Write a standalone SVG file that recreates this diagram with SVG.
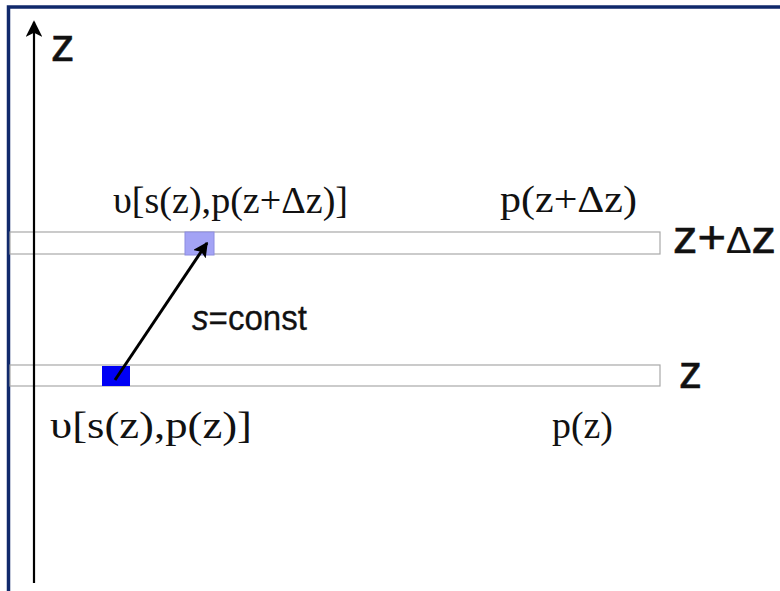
<svg xmlns="http://www.w3.org/2000/svg" width="780" height="591" viewBox="0 0 780 591">
<defs>
<style>
.serif{font-family:"Liberation Serif","Times New Roman",serif;font-size:38px;fill:#111}
.sans{font-family:"Liberation Sans",Arial,sans-serif;fill:#111;stroke:#111;stroke-width:0.6}
.band{fill:#fff;stroke:#a8a8a8;stroke-width:1.2}
</style>
<marker id="ah" viewBox="0 0 10 10" refX="9" refY="5" markerWidth="9" markerHeight="7.5" markerUnits="strokeWidth" orient="auto">
<path d="M0,0 L10,5 L0,10 L2.5,5 z" fill="#000"/>
</marker>
<marker id="ah2" viewBox="0 0 10 10" refX="9" refY="5" markerWidth="5" markerHeight="5" markerUnits="strokeWidth" orient="auto">
<path d="M0,0 L10,5 L0,10 L2,5 z" fill="#000"/>
</marker>
</defs>
<rect width="780" height="591" fill="#fff"/>
<g id="frame">
<path d="M8.5,591 L8.5,7 L780,7" fill="none" stroke="#10296b" stroke-width="3.5"/>
</g>
<g id="band-upper"><rect class="band" x="10" y="232" width="650" height="22"/></g>
<g id="band-lower"><rect class="band" x="10" y="365" width="650" height="21"/></g>
<g id="cell-upper"><rect x="185" y="232" width="29" height="23" fill="#a3a3f5" stroke="#8c8ce0" stroke-width="1"/></g>
<g id="cell-lower"><rect x="102" y="366" width="28" height="20" fill="#0000f5"/></g>
<g id="connectors">
<line x1="34" y1="583" x2="34" y2="22" stroke="#000" stroke-width="2.2" marker-end="url(#ah)"/>
<line x1="115" y1="380" x2="207" y2="243" stroke="#000" stroke-width="3" marker-end="url(#ah2)"/>
</g>
<g id="labels">
<text class="sans" x="51" y="61" font-size="47">z</text>
<text class="serif" x="113" y="213" textLength="235" lengthAdjust="spacingAndGlyphs">υ[s(z),p(z+Δz)]</text>
<text class="serif" x="500" y="212" textLength="137" lengthAdjust="spacingAndGlyphs">p(z+Δz)</text>
<text class="sans" x="673" y="253" font-size="46" textLength="103" lengthAdjust="spacingAndGlyphs">z+<tspan font-size="36" style="stroke-width:0.2">Δ</tspan>z</text>
<text class="sans" x="192" y="330" font-size="35" textLength="115" lengthAdjust="spacingAndGlyphs" style="stroke-width:0.3"><tspan font-style="italic">s</tspan>=const</text>
<text class="sans" x="679" y="388" font-size="46">z</text>
<text class="serif" x="50" y="438" textLength="202" lengthAdjust="spacingAndGlyphs">υ[s(z),p(z)]</text>
<text class="serif" x="552" y="438" textLength="61" lengthAdjust="spacingAndGlyphs">p(z)</text>
</g>
</svg>
